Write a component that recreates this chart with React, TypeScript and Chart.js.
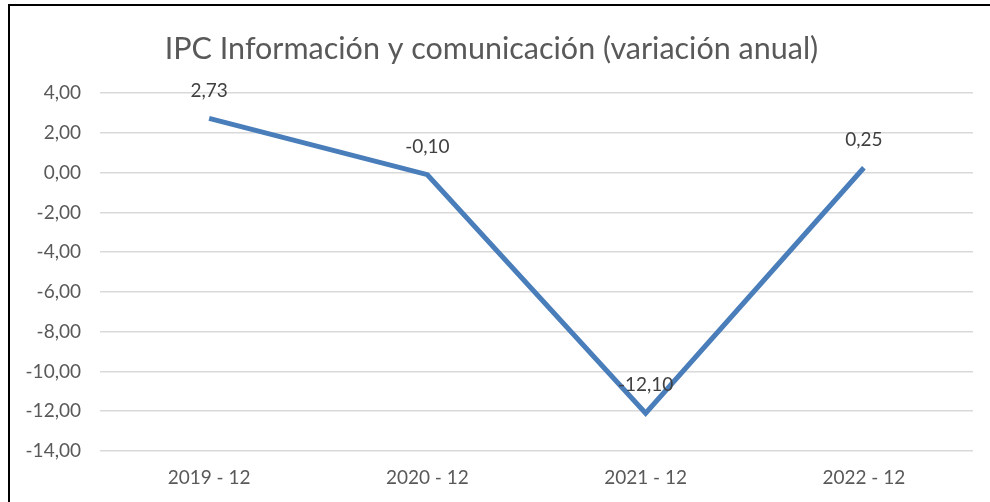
import React, { useEffect, useRef } from "react";
import { Chart, registerables } from "chart.js";

Chart.register(...registerables);

const categories = ["2019 - 12", "2020 - 12", "2021 - 12", "2022 - 12"];
const values = [2.73, -0.1, -12.1, 0.25];
const yMin = -14;
const yMax = 4;
const yStep = 2;
const title = "IPC Información y comunicación (variación anual)";

const FONT = "Lato, 'Open Sans', sans-serif";
const fmt = (v: number) => v.toFixed(2).replace(".", ",");

const dataLabels = {
  id: "dataLabels",
  afterDatasetsDraw(chart: any) {
    const ctx = chart.ctx;
    const meta = chart.getDatasetMeta(0);
    ctx.save();
    ctx.font = `19px ${FONT}`;
    ctx.fillStyle = "#404040";
    ctx.textAlign = "center";
    ctx.textBaseline = "middle";
    meta.data.forEach((pt: any, i: number) => {
      ctx.fillText(fmt(values[i]), pt.x, pt.y - 28);
    });
    ctx.restore();
  },
};

export default function App() {
  const ref = useRef<HTMLCanvasElement>(null);
  useEffect(() => {
    if (!ref.current) return;
    const chart = new Chart(ref.current, {
      type: "line",
      data: {
        labels: categories,
        datasets: [
          {
            data: values,
            borderColor: "#4a7ebb",
            borderWidth: 5,
            pointRadius: 0,
            tension: 0,
            fill: false,
          },
        ],
      },
      options: {
        animation: false,
        responsive: false,
        maintainAspectRatio: false,
        layout: { padding: { left: 0, right: 17, top: 0, bottom: 0 } },
        plugins: {
          legend: { display: false },
          tooltip: { enabled: false },
          title: {
            display: true,
            text: title,
            color: "#595959",
            font: { family: FONT, size: 30.5, weight: "normal" },
            padding: { top: 25, bottom: 25.6 },
          },
        },
        scales: {
          x: {
            offset: true,
            grid: { display: false, drawTicks: false },
            border: { display: false },
            ticks: {
              color: "#595959",
              font: { family: FONT, size: 19 },
              padding: 15,
              maxRotation: 0,
            },
            afterFit: (s: any) => {
              s.height = 51;
            },
          },
          y: {
            min: yMin,
            max: yMax,
            grid: { color: "#d9d9d9", lineWidth: 1.5, drawTicks: false },
            border: { display: false },
            ticks: {
              stepSize: yStep,
              color: "#595959",
              font: { family: FONT, size: 19 },
              padding: 19,
              callback: (v: any) => fmt(Number(v)),
            },
            afterFit: (s: any) => {
              s.width = 90;
            },
          },
        },
      },
      plugins: [dataLabels],
    });
    return () => chart.destroy();
  }, []);

  return (
    <div
      style={{
        position: "absolute",
        left: 8,
        top: 4,
        width: 982,
        height: 498,
        borderTop: "2px solid #000",
        borderLeft: "2px solid #000",
        background: "#fff",
      }}
    >
      <canvas ref={ref} width={980} height={496} style={{ display: "block" }} />
    </div>
  );
}
